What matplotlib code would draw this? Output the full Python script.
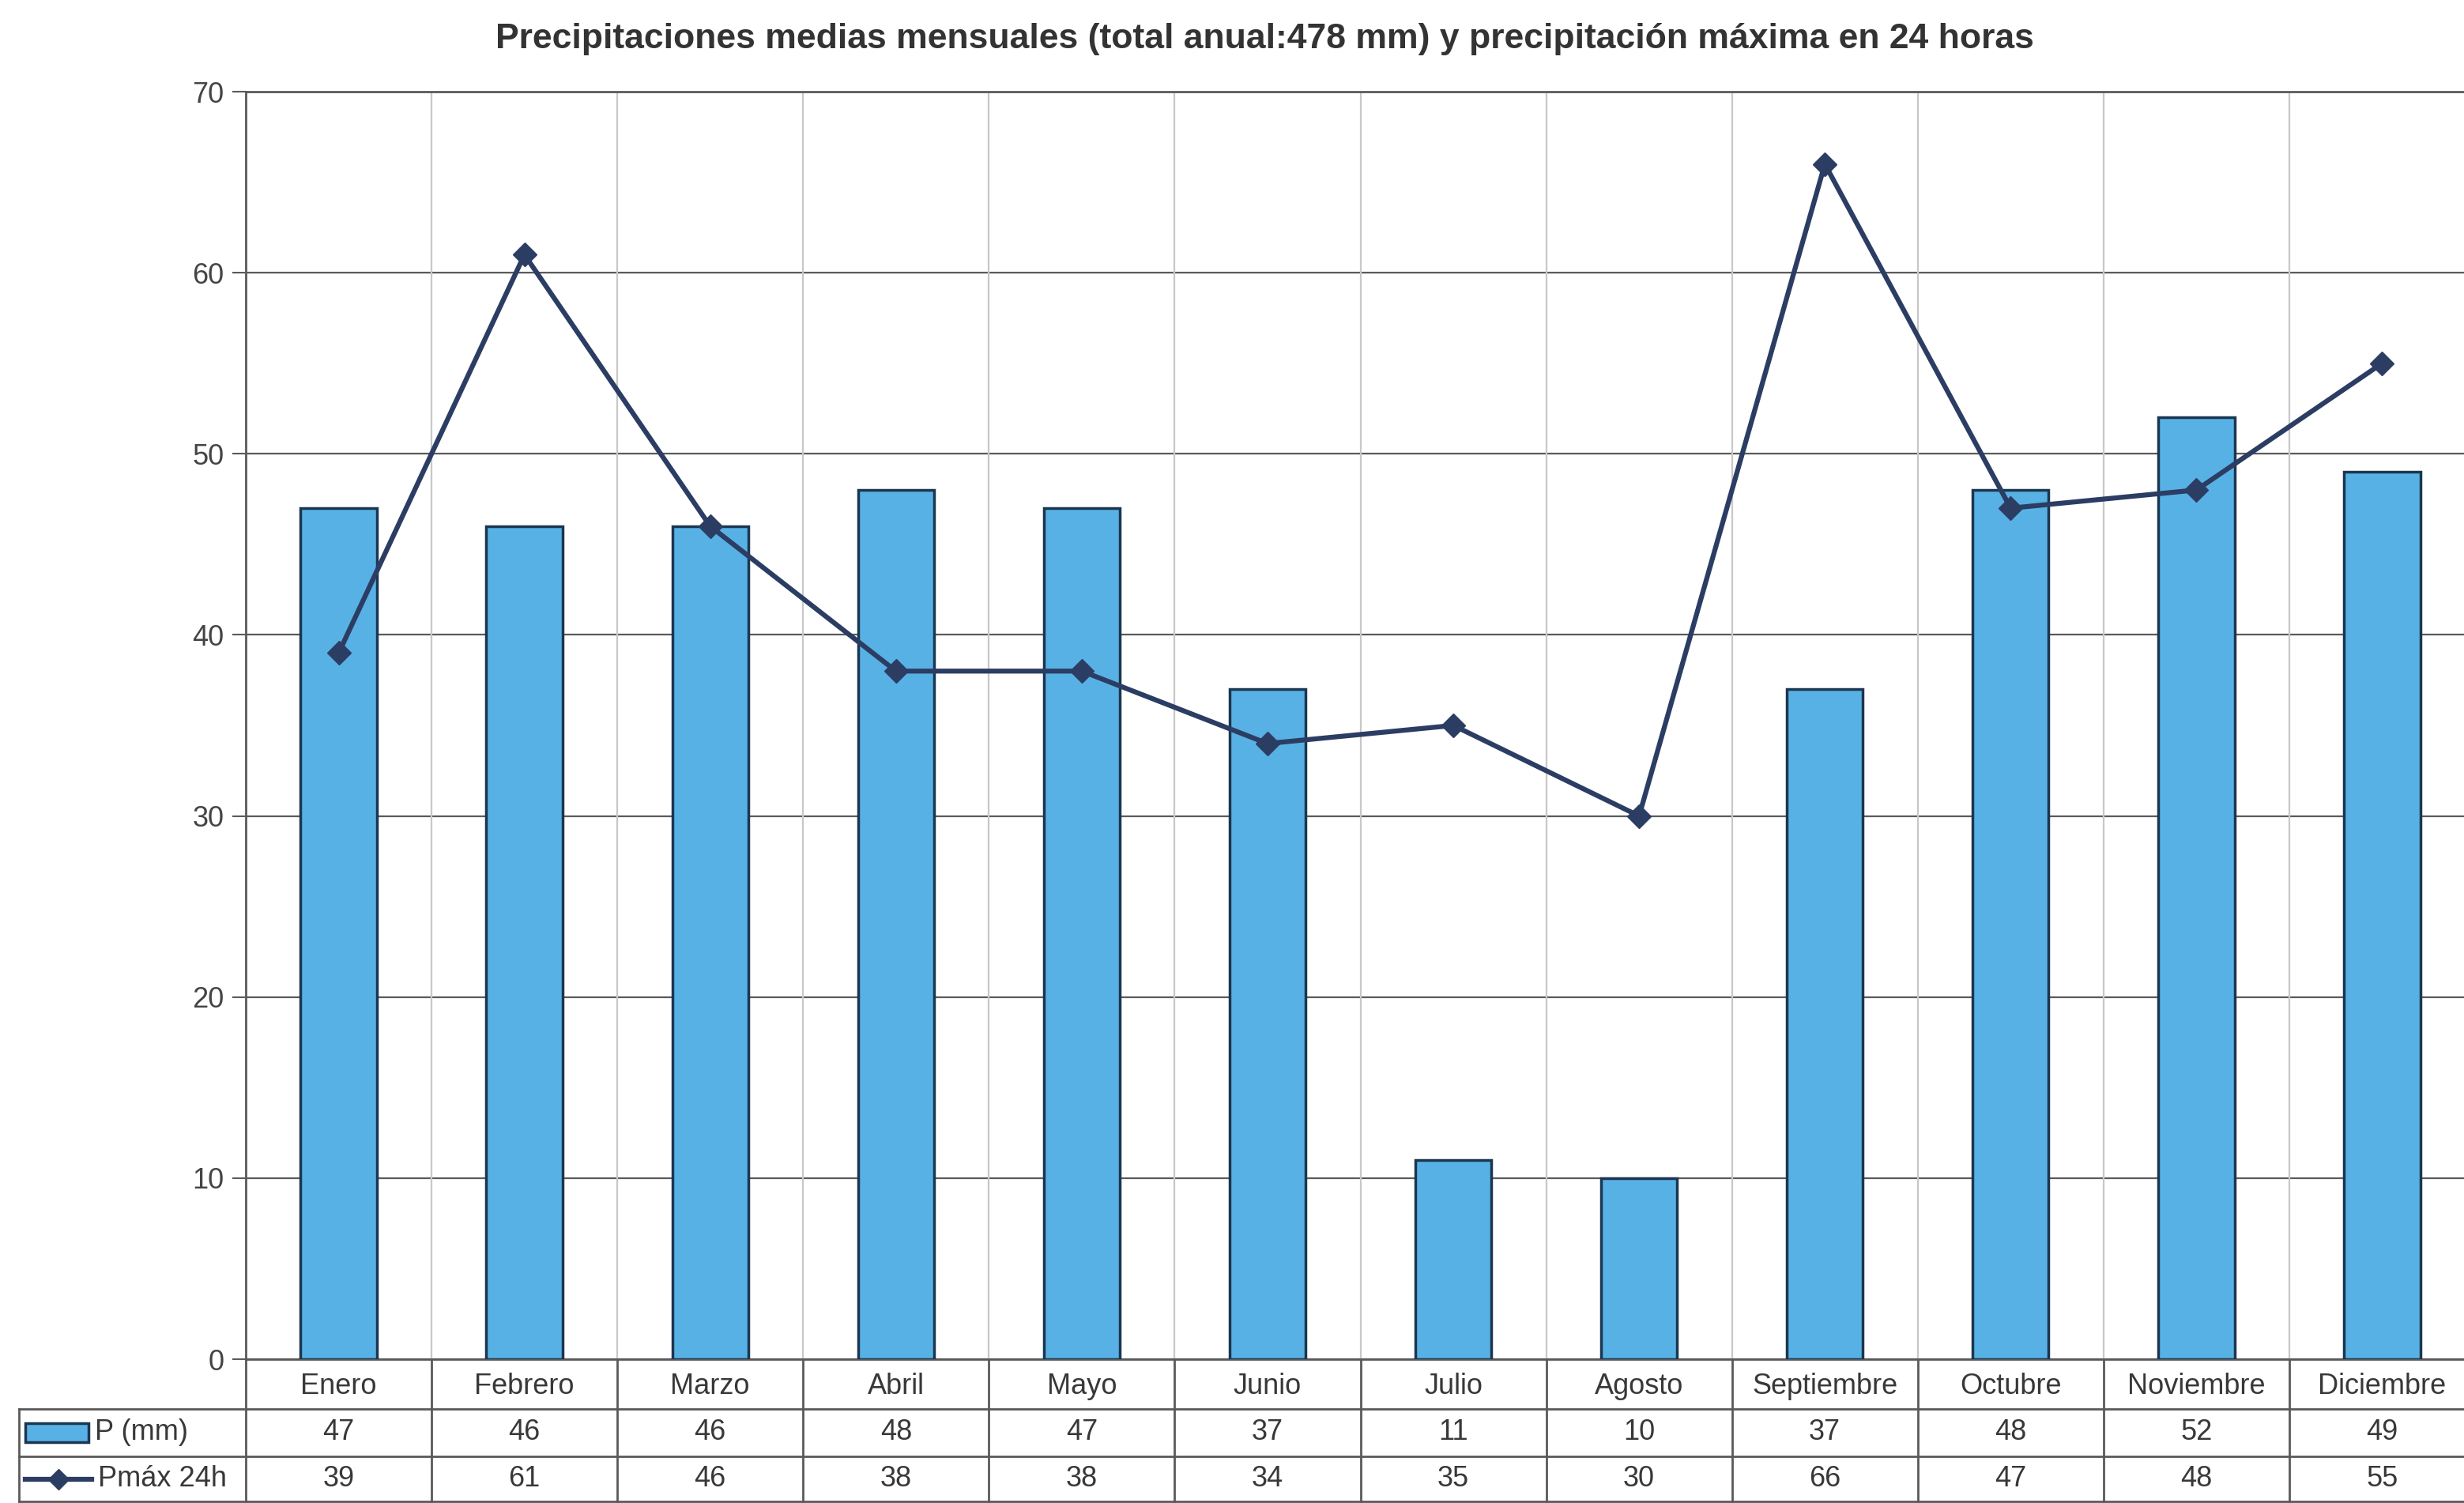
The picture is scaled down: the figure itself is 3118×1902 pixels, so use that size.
import matplotlib.pyplot as plt
from matplotlib.patches import Rectangle

plt.rcParams['font.family'] = ['Liberation Sans', 'DejaVu Sans']

# Monthly rainfall data
months = ['Enero', 'Febrero', 'Marzo', 'Abril', 'Mayo', 'Junio', 'Julio',
          'Agosto', 'Septiembre', 'Octubre', 'Noviembre', 'Diciembre']
p_mm = [47, 46, 46, 48, 47, 37, 11, 10, 37, 48, 52, 49]
pmax_24h = [39, 61, 46, 38, 38, 34, 35, 30, 66, 47, 48, 55]
series_names = ['P (mm)', 'Pmáx 24h']
title = 'Precipitaciones medias mensuales (total anual:478 mm) y precipitación máxima en 24 horas'

W, H = 3118, 1902
fig = plt.figure(figsize=(W / 100, H / 100), dpi=100)

# plot box in pixels (the last column runs slightly past the right edge)
L, T, R, B = 311, 116, 3132, 1720
ax = fig.add_axes([L / W, 1 - B / H, (R - L) / W, (B - T) / H])
col_w = (R - L) / len(months)


def px_x(px):
    return -0.5 + (px - L) / col_w


def px_y(py):
    return (B - py) / (B - T)


bar_c = '#58b1e5'
edge_c = '#1b3650'
line_c = '#2c3d63'
grid_c = '#5a5a5a'
vgrid_c = '#c8c8c8'
text_c = '#383838'

x = list(range(len(months)))
ax.bar(x, p_mm, width=0.41, color=bar_c, edgecolor=edge_c, linewidth=2.5, zorder=3)
ax.plot(x, pmax_24h, color=line_c, lw=4.5, marker='D', markersize=15, zorder=4)

ax.set_xlim(-0.5, len(months) - 0.5)
ax.set_ylim(0, 70)
ax.set_yticks(range(0, 71, 10))
ax.set_xticks([])
ax.yaxis.grid(True, color=grid_c, lw=1.6)
ax.set_axisbelow(True)
for b in range(len(months) - 1):
    ax.axvline(b + 0.5, color=vgrid_c, lw=1.6, zorder=1)
ax.tick_params(axis='y', length=12, width=1.5, color=grid_c, labelsize=26,
               labelcolor='#444444', pad=8)
ax.spines['right'].set_visible(False)
for s in ['left', 'bottom', 'top']:
    ax.spines[s].set_color(grid_c)
    ax.spines[s].set_linewidth(2)

# data table under the plot
tr = ax.get_xaxis_transform()
r0, r1, r2, r3 = 0, px_y(1783), px_y(1843), px_y(1900)
lab_left = px_x(24)
line_kw = dict(transform=tr, color=grid_c, lw=2, clip_on=False)

for b in [-0.5] + [i + 0.5 for i in range(len(months))]:
    ax.plot([b, b], [r0, r3], **line_kw)
ax.plot([lab_left, lab_left], [r1, r3], **line_kw)
for ry in (r1, r2, r3):
    ax.plot([lab_left, len(months) - 0.5], [ry, ry], **line_kw)

tkw = dict(transform=tr, ha='center', va='center', fontsize=26, color=text_c, clip_on=False)
for i, m in enumerate(months):
    ax.text(i, (r0 + r1) / 2 - 0.002, m, **tkw)
    ax.text(i, (r1 + r2) / 2, str(p_mm[i]), **tkw)
    ax.text(i, (r2 + r3) / 2, str(pmax_24h[i]), **tkw)

# legend keys in the label column
yc1 = (r1 + r2) / 2
yc2 = (r2 + r3) / 2
kh = 24 / (B - T)
ax.add_patch(Rectangle((px_x(32), yc1 - kh / 2), px_x(112) - px_x(32), kh,
                       transform=tr, facecolor=bar_c, edgecolor=edge_c, lw=2.5,
                       clip_on=False))
ax.plot([px_x(32), px_x(116)], [yc2, yc2], transform=tr, color=line_c, lw=4.5,
        clip_on=False)
ax.plot([px_x(74)], [yc2], transform=tr, color=line_c, marker='D', markersize=13,
        clip_on=False)
ax.text(px_x(120), yc1, series_names[0], transform=tr, ha='left', va='center',
        fontsize=26, color=text_c)
ax.text(px_x(124), yc2, series_names[1], transform=tr, ha='left', va='center',
        fontsize=26, color=text_c)

fig.text(1600 / W, 1 - 50 / H, title, ha='center', va='center', fontsize=32,
         weight='bold', color='#333333')

fig.savefig('out.png', dpi=100)
